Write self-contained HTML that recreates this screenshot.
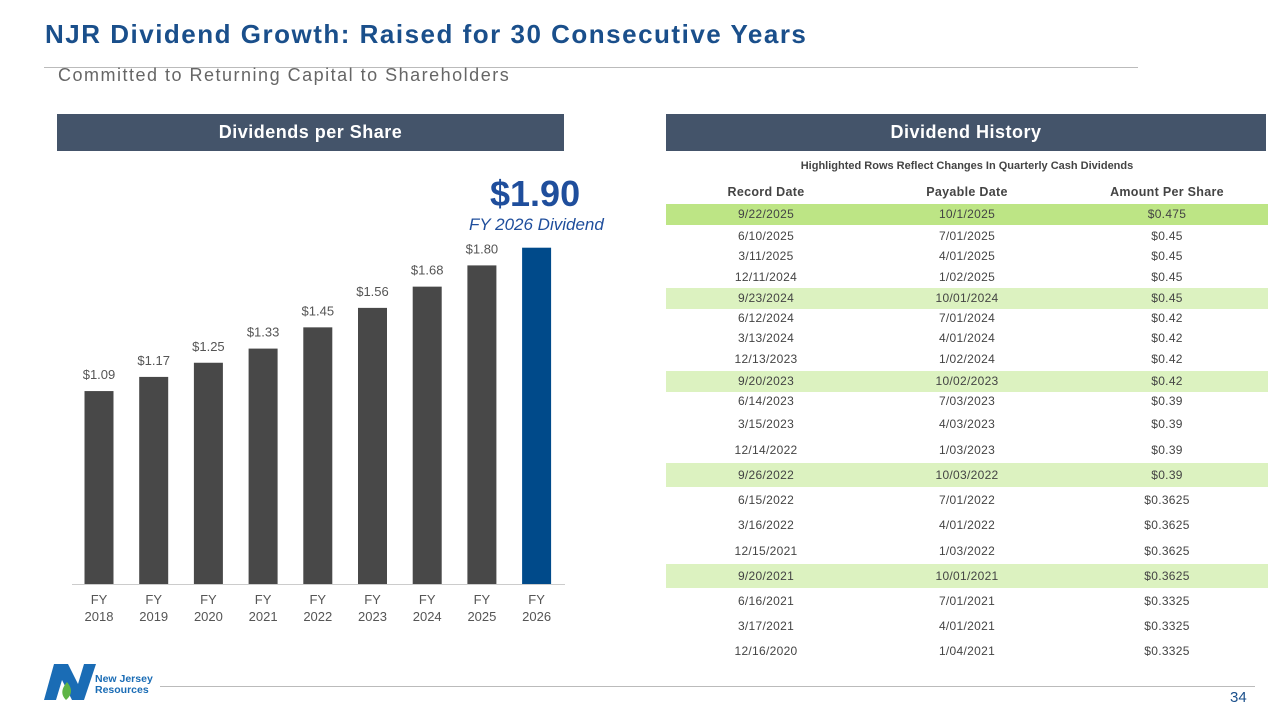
<!DOCTYPE html>
<html><head><meta charset="utf-8"><style>
body{margin:0;width:1280px;height:720px;background:#fff;position:relative;overflow:hidden;font-family:"Liberation Sans",sans-serif}
.a{position:absolute}
.ban{position:absolute;top:114px;height:37px;background:#44546a;color:#fff;font-weight:bold;font-size:18px;line-height:37px;text-align:center;letter-spacing:0.5px}
.row{position:absolute;left:666px;width:602px;height:21px;font-size:12px;color:#444;line-height:21px;letter-spacing:0.3px}
.row span{position:absolute;width:200px;text-align:center;top:0}
</style></head><body>
<div class="a" style="left:45px;top:19px;font-size:26px;font-weight:bold;color:#1a4f8b;letter-spacing:1.5px">NJR Dividend Growth: Raised for 30 Consecutive Years</div>
<div class="a" style="left:44px;top:67px;width:1094px;height:1px;background:#bbb"></div>
<div class="a" style="left:58px;top:65px;font-size:18px;color:#666;letter-spacing:1.5px">Committed to Returning Capital to Shareholders</div>
<div class="ban" style="left:57px;width:507px">Dividends per Share</div>
<div class="ban" style="left:666px;width:600px">Dividend History</div>
<div class="a" style="left:490px;top:173px;font-size:36px;font-weight:bold;color:#1f4e9c">$1.90</div>
<div class="a" style="left:469px;top:215px;font-size:17px;font-style:italic;color:#1f4e9c">FY 2026 Dividend</div>
<svg class="a" style="left:0;top:0" width="640" height="640" id="chart"></svg>
<div class="a" style="left:666px;top:160px;width:602px;text-align:center;font-size:11px;font-weight:bold;color:#444">Highlighted Rows Reflect Changes In Quarterly Cash Dividends</div>
<div class="row" style="top:182px;font-weight:bold;font-size:12.5px"><span style="left:0">Record Date</span><span style="left:201px">Payable Date</span><span style="left:401px">Amount Per Share</span></div>
<div id="rows"></div>
<div class="a" style="left:160px;top:686px;width:1095px;height:1px;background:#bbb"></div>
<div class="a" style="left:1230px;top:689px;font-size:15px;color:#1a4f8b">34</div>
<svg class="a" style="left:44px;top:664px" width="56" height="38"><polygon points="10,0 24,0 34,20 40,0 52,0 40,36 28,36 18,16 12,36 0,36" fill="#1a6cb5"/><path d="M22,36 C16,30 18,24 23,18 C28,24 29,30 22,36Z" fill="#5fb446"/></svg>
<div class="a" style="left:95px;top:674px;font-size:10.5px;font-weight:bold;color:#1a6cb5;line-height:11px">New Jersey<br>Resources</div>
<script>
const years=["2018","2019","2020","2021","2022","2023","2024","2025","2026"];
const values=[1.09,1.17,1.25,1.33,1.45,1.56,1.68,1.80,1.90];
const labels=["$1.09","$1.17","$1.25","$1.33","$1.45","$1.56","$1.68","$1.80",""];
const svg=document.getElementById('chart');const NS="http://www.w3.org/2000/svg";
const y=v=>584-v*177, x=i=>99+i*54.7;
function mk(t,a){const e=document.createElementNS(NS,t);for(const k in a)e.setAttribute(k,a[k]);svg.appendChild(e);return e;}
values.forEach((v,i)=>{
const r=mk('rect',{x:x(i)-14.5,y:y(v),width:29,height:584-y(v),fill:i==8?'#004a8a':'#484848'});


if(labels[i]){const t=mk('text',{x:x(i),y:y(v)-12,'text-anchor':'middle','font-size':13,fill:'#555'});t.textContent=labels[i];

}
const a=mk('text',{x:x(i),y:604,'text-anchor':'middle','font-size':13,fill:'#555'});a.textContent='FY';


const b=mk('text',{x:x(i),y:621,'text-anchor':'middle','font-size':13,fill:'#555'});b.textContent=years[i];


});
const ax=mk('line',{x1:72,x2:565,y1:584.5,y2:584.5,stroke:'#ccc'});


const rec=["9/22/2025","6/10/2025","3/11/2025","12/11/2024","9/23/2024","6/12/2024","3/13/2024","12/13/2023","9/20/2023","6/14/2023","3/15/2023","12/14/2022","9/26/2022","6/15/2022","3/16/2022","12/15/2021","9/20/2021","6/16/2021","3/17/2021","12/16/2020"];
const pay=["10/1/2025","7/01/2025","4/01/2025","1/02/2025","10/01/2024","7/01/2024","4/01/2024","1/02/2024","10/02/2023","7/03/2023","4/03/2023","1/03/2023","10/03/2022","7/01/2022","4/01/2022","1/03/2022","10/01/2021","7/01/2021","4/01/2021","1/04/2021"];
const amt=["$0.475","$0.45","$0.45","$0.45","$0.45","$0.42","$0.42","$0.42","$0.42","$0.39","$0.39","$0.39","$0.39","$0.3625","$0.3625","$0.3625","$0.3625","$0.3325","$0.3325","$0.3325"];
const cy=[214,236,256,277,298,318,338,359,381,401,424,450,475,500,525,551,576,601,626,651];
const hl={0:'#bde585',4:'#dcf2c0',8:'#dcf2c0',12:'#dcf2c0',16:'#dcf2c0'};
const R=document.getElementById('rows');
rec.forEach((r,i)=>{const d=document.createElement('div');d.className='row';


const h=i>=12?24:21;d.style.top=(cy[i]-h/2)+'px';d.style.height=h+'px';d.style.lineHeight=h+'px';
if(hl[i])d.style.background=hl[i];
d.innerHTML='<span style="left:0">'+r+'</span><span style="left:201px">'+pay[i]+'</span><span style="left:401px">'+amt[i]+'</span>';R.appendChild(d);});
</script>
</body></html>
